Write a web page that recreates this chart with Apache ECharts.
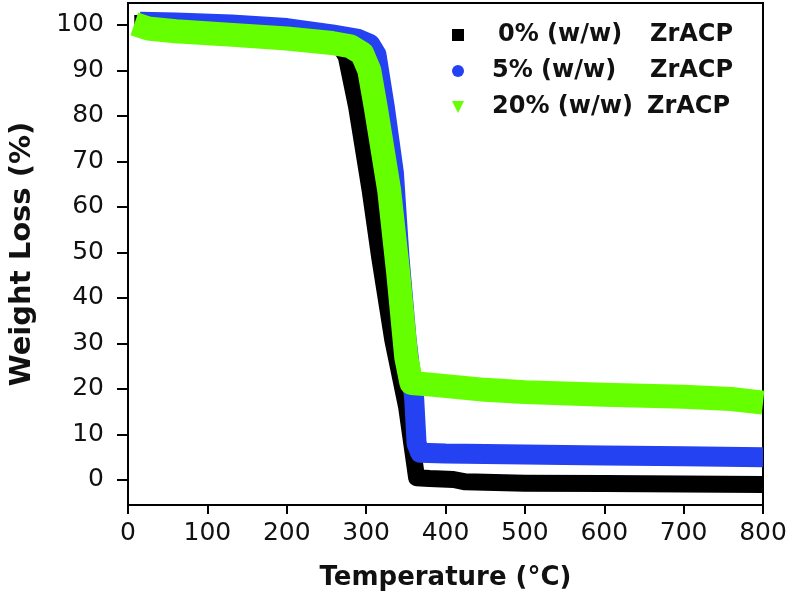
<!DOCTYPE html>
<html>
<head>
<meta charset="utf-8">
<script src="https://cdn.jsdelivr.net/npm/echarts@6/dist/echarts.min.js"></script>
<style>html,body{margin:0;padding:0;background:#fff}#c{width:792px;height:600px}</style>
</head>
<body>
<div id="c"></div>
<script>
// Temperature (°C) vs Weight Loss (%)
const seriesNames = ['0% (w/w)  ZrACP', '5% (w/w)   ZrACP', '20% (w/w) ZrACP'];
const legendPrefix = ['0% (w/w)', '5% (w/w)', '20% (w/w)'];
const xTicks = [0, 100, 200, 300, 400, 500, 600, 700, 800];
const yTicks = [0, 10, 20, 30, 40, 50, 60, 70, 80, 90, 100];

const zr0 = [[8,100.3],[50,100.4],[100,100.2],[150,99.8],[200,99.2],[240,98.3],[262,96.8],[275,93],[288,82],[305,63.7],[317,49],[333.5,30.8],[351,16],[363.6,0.5],[380,0.3],[410,0.1],[425,-0.4],[500,-0.7],[600,-0.8],[700,-0.9],[800,-1]];
const zr5 = [[15,100.7],[60,100.5],[130,100.1],[200,99.3],[257,97.9],[290,96.9],[305,95.8],[313,93.5],[323.5,82],[335,67.5],[342,49],[351,30.8],[355,24.9],[360.5,18],[363.6,8],[368,6],[400,5.8],[500,5.6],[600,5.4],[700,5.2],[800,5.0]];
const zr20 = [[8,100.2],[25,99.2],[60,98.6],[132,97.8],[200,97],[257,96],[280,95.3],[295,93.7],[304,90],[312,82],[329,63.7],[340.4,45.5],[350.5,27],[357,21.3],[385,20.9],[450,19.8],[500,19.3],[600,18.7],[700,18.3],[760,17.8],[800,17.0]];

const colors = ['#000000', '#2441f2', '#66ff00'];
const widths = [17, 20, 24];
const dataSets = [zr0, zr5, zr20];
const icons = ['rect', 'circle', 'path://M0,0L10,0L5,10Z'];

const chart = echarts.init(document.getElementById('c'), null, {renderer: 'canvas'});
const font = 'DejaVu Sans';

chart.setOption({
  animation: false,
  backgroundColor: '#fff',
  grid: {left: 124, right: 29, top: 3, bottom: 95, show: true, borderColor: '#000', borderWidth: 2, backgroundColor: 'transparent'},
  legend: {
    orient: 'vertical', left: 452, top: 22, padding: 0, itemGap: 10,
    itemWidth: 12, itemHeight: 12,
    data: seriesNames.map((n, i) => ({name: n, icon: icons[i]})),
    formatter: function (name) {
      const i = seriesNames.indexOf(name);
      return '{s' + i + '|' + legendPrefix[i] + '}{z|ZrACP}';
    },
    textStyle: {
      fontFamily: font, fontWeight: 'bold', fontSize: 24, color: '#111', lineHeight: 26,
      rich: {
        s0: {fontFamily: font, fontWeight: 'bold', fontSize: 24, color: '#111', padding: [0,0,0,29], width: 152},
        s1: {fontFamily: font, fontWeight: 'bold', fontSize: 24, color: '#111', padding: [0,0,0,23], width: 158},
        s2: {fontFamily: font, fontWeight: 'bold', fontSize: 24, color: '#111', padding: [0,0,0,23], width: 155},
        z: {fontFamily: font, fontWeight: 'bold', fontSize: 24, color: '#111'}
      }
    }
  },
  xAxis: {
    type: 'value', min: 0, max: 800, interval: 100,
    name: 'Temperature (°C)', nameLocation: 'middle', nameGap: 60,
    nameTextStyle: {fontFamily: font, fontWeight: 'bold', fontSize: 26, color: '#111'},
    axisLine: {show: true, onZero: false, lineStyle: {color: '#000', width: 2}},
    axisTick: {show: true, inside: false, length: 9, lineStyle: {color: '#000', width: 2}},
    axisLabel: {fontFamily: font, fontSize: 25, color: '#111', margin: 16, showMinLabel: true, showMaxLabel: true,
      customValues: xTicks},
    splitLine: {show: false}
  },
  yAxis: {
    type: 'value', min: -5.5, max: 104.8,
    name: 'Weight Loss (%)', nameLocation: 'middle', nameGap: 91, nameRotate: 90,
    nameTextStyle: {fontFamily: font, fontWeight: 'bold', fontSize: 29, color: '#111'},
    axisLine: {show: true, onZero: false, lineStyle: {color: '#000', width: 2}},
    axisTick: {show: true, inside: false, length: 11, lineStyle: {color: '#000', width: 2}, customValues: yTicks},
    axisLabel: {fontFamily: font, fontSize: 25, color: '#111', margin: 24, customValues: yTicks},
    splitLine: {show: false}
  },
  series: dataSets.map((d, i) => ({
    name: seriesNames[i], type: 'line', data: d, showSymbol: false, symbol: 'none',
    color: colors[i], z: 2 + i,
    lineStyle: {color: colors[i], width: widths[i], join: 'round', cap: 'butt'}
  }))
});
</script>
</body>
</html>
